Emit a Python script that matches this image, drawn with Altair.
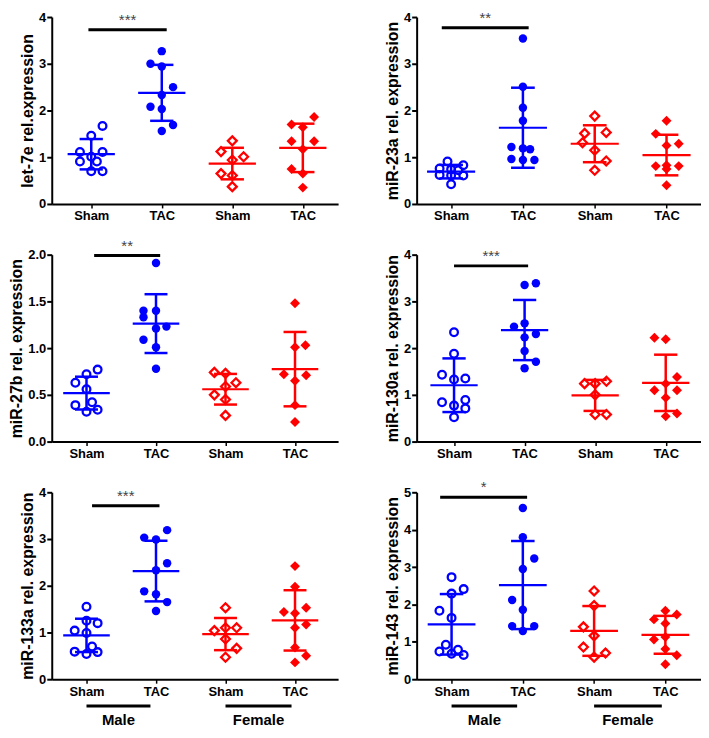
import altair as alt
import pandas as pd

FONT = "Liberation Sans"
BLUE = "#0000ff"
RED = "#ff0000"

# ---------------- categories ----------------
group_pos = [1, 2, 3, 4]
group_labels = ["Sham", "TAC", "Sham", "TAC"]
group_sex = ["Male", "Male", "Female", "Female"]
group_cond = ["Sham", "TAC", "Sham", "TAC"]

panel_titles = ["let-7e rel.expression", "miR-23a rel. expression",
                "miR-27b rel. expression", "miR-130a rel. expression",
                "miR-133a rel. expression", "miR-143 rel. expression"]
y_max = [4, 4, 2, 4, 4, 5]
y_ticks = [[0, 1, 2, 3, 4], [0, 1, 2, 3, 4], [0, 0.5, 1, 1.5, 2],
           [0, 1, 2, 3, 4], [0, 1, 2, 3, 4], [0, 1, 2, 3, 4, 5]]
y_format = ["d", "d", ".1f", "d", "d", "d"]
x_domains = [[0.44, 4.50], [0.52, 4.48], [0.50, 4.62],
             [0.47, 4.50], [0.50, 4.62], [0.51, 4.50]]

# ---------------- values (per group: Male Sham, Male TAC, Female Sham, Female TAC) ----------------
let7e_values = [
    [1.67, 1.46, 1.11, 1.11, 1.01, 0.91, 0.91, 0.70, 0.70],
    [3.27, 3.00, 2.94, 2.50, 2.33, 2.08, 2.03, 1.69, 1.56],
    [1.35, 1.12, 1.01, 0.94, 0.65, 0.61, 0.37],
    [1.86, 1.70, 1.64, 1.34, 1.34, 1.17, 0.75, 0.65, 0.35],
]
let7e_jitter = [
    [0.16, 0, -0.16, 0.16, 0, -0.16, 0.08, 0, 0.16],
    [0, -0.16, 0, 0.16, 0, -0.16, 0, 0.16, 0],
    [0, -0.16, 0.16, 0, -0.16, 0, 0],
    [0.16, -0.16, 0, -0.16, 0.16, 0, -0.16, 0, 0],
]
mir23a_values = [
    [0.91, 0.83, 0.76, 0.74, 0.72, 0.62, 0.61, 0.61, 0.42],
    [3.54, 2.51, 2.06, 1.78, 1.22, 1.19, 1.17, 0.96, 0.94, 0.94],
    [1.88, 1.51, 1.53, 1.31, 1.15, 0.92, 0.72],
    [1.78, 1.50, 1.29, 1.25, 0.83, 0.81, 0.81, 0.75, 0.40],
]
mir23a_jitter = [
    [-0.05, 0.17, -0.16, 0.0, 0.1, -0.16, 0.0, 0.17, 0],
    [0, 0, 0, 0, -0.16, 0, 0.1, -0.16, 0, 0.16],
    [0, -0.14, 0.16, -0.17, 0, 0.16, 0],
    [0, -0.15, 0.17, 0, 0, -0.15, 0.17, 0, 0],
]
mir27b_values = [
    [0.77, 0.72, 0.63, 0.56, 0.42, 0.39, 0.34, 0.32],
    [1.91, 1.40, 1.40, 1.33, 1.23, 1.21, 1.09, 1.01, 0.78],
    [0.74, 0.73, 0.63, 0.59, 0.50, 0.45, 0.28],
    [1.48, 1.03, 1.01, 0.72, 0.71, 0.65, 0.39, 0.21],
]
mir27b_jitter = [
    [0.16, 0, -0.16, 0, 0.08, -0.16, 0.16, 0],
    [0, -0.18, 0, -0.18, 0.15, 0, -0.18, 0, 0],
    [-0.16, 0, 0.15, 0, -0.16, 0, 0],
    [0, 0.15, 0, -0.16, 0.16, 0, 0, 0],
]
mir130a_values = [
    [2.34, 1.88, 1.43, 1.35, 1.33, 0.89, 0.84, 0.77, 0.71, 0.52],
    [3.39, 3.35, 2.53, 2.46, 2.30, 2.23, 1.94, 1.71, 1.57],
    [1.29, 1.24, 1.24, 1.00, 0.58, 0.58],
    [2.22, 2.19, 1.38, 1.24, 1.10, 1.10, 0.94, 0.60, 0.54],
]
mir130a_jitter = [
    [0, 0, -0.17, 0.16, 0, 0.16, -0.17, 0, 0.16, 0],
    [0.16, 0, 0, -0.15, 0.16, 0, 0, 0.16, 0],
    [0.16, -0.15, 0, 0, 0, 0.16],
    [-0.16, 0, 0.16, 0, -0.16, 0.16, 0, 0.16, 0],
]
mir133a_values = [
    [1.55, 1.25, 1.20, 1.04, 0.99, 0.70, 0.59, 0.58, 0.54],
    [3.19, 3.03, 2.99, 2.48, 2.33, 1.88, 1.82, 1.65, 1.46],
    [1.53, 1.10, 1.10, 1.04, 0.86, 0.66, 0.47],
    [2.42, 1.98, 1.53, 1.44, 1.41, 1.17, 1.10, 0.68, 0.50, 0.36],
]
mir133a_jitter = [
    [0, 0, 0.16, -0.17, 0, 0.08, -0.17, 0.16, 0],
    [0.16, -0.17, 0, 0.16, 0, -0.17, 0, 0.16, 0],
    [0, 0, 0.16, -0.16, 0, 0.16, 0],
    [0, 0, 0.16, -0.16, 0, 0.16, 0, 0, 0.16, 0],
]
mir143_values = [
    [2.73, 2.41, 2.29, 1.83, 1.64, 0.92, 0.79, 0.74, 0.68, 0.65],
    [4.58, 3.80, 3.23, 2.95, 2.12, 1.86, 1.42, 1.42, 1.29],
    [2.36, 1.97, 1.40, 1.16, 0.86, 0.70, 0.59],
    [1.83, 1.73, 1.60, 1.49, 1.13, 1.06, 0.81, 0.64, 0.40],
]
mir143_jitter = [
    [0, 0.17, 0, -0.17, 0, -0.08, 0.09, -0.17, 0, 0.17],
    [0, 0, 0.16, 0, -0.15, 0, -0.15, 0.16, 0],
    [0, 0, -0.15, 0, -0.15, 0.16, 0],
    [0, 0.16, -0.16, 0, 0, -0.16, 0, 0.16, 0],
]

# significance bars (Male Sham vs Male TAC)
sig_level = [3.73, 3.77, 1.99, 3.76, 3.71, 4.87]
sig_x1 = [0.96, 0.87, 1.11, 1.00, 1.08, 0.84]
sig_x2 = [2.07, 2.08, 2.06, 2.05, 2.05, 2.06]
sig_stars = ["***", "**", "**", "***", "***", "*"]

# sex group annotation below bottom panels
sex_labels = ["Male", "Female"]
sex_x1 = [1.00, 3.00]
sex_x2 = [1.92, 3.95]

all_values = [let7e_values, mir23a_values, mir27b_values,
              mir130a_values, mir133a_values, mir143_values]
all_jitter = [let7e_jitter, mir23a_jitter, mir27b_jitter,
              mir130a_jitter, mir133a_jitter, mir143_jitter]

W1, W2, H = 288, 286, 188

label_expr = "[''," + ",".join("'%s'" % s for s in group_labels) + "][datum.value]"

color_enc = alt.Color("sex:N", scale=alt.Scale(domain=["Male", "Female"], range=[BLUE, RED]),
                      legend=None)
shape_enc = alt.Shape("sex:N", scale=alt.Scale(domain=["Male", "Female"],
                                               range=["circle", "diamond"]), legend=None)


def make_panel(i):
    rows = []
    for gi in range(4):
        for v, off in zip(all_values[i][gi], all_jitter[i][gi]):
            rows.append({"g": group_pos[gi], "sex": group_sex[gi], "cond": group_cond[gi],
                         "value": v, "off": off})
    d = pd.DataFrame(rows)

    xs = alt.Scale(domain=x_domains[i], nice=False, zero=False)
    ys = alt.Scale(domain=[0, y_max[i]], nice=False, zero=True)
    xaxis = alt.Axis(values=group_pos, labelExpr=label_expr, title=None, grid=False,
                     domainColor="black", domainWidth=2, tickColor="black", tickWidth=1.5,
                     tickSize=4, labelFont=FONT, labelFontSize=13, labelFontWeight="bold",
                     labelColor="black", labelPadding=2, labelAngle=0)
    yaxis = alt.Axis(values=y_ticks[i], format=y_format[i], title=panel_titles[i], grid=False,
                     domainColor="black", domainWidth=2, tickColor="black", tickWidth=2,
                     tickSize=5, labelFont=FONT, labelFontSize=13, labelFontWeight="bold",
                     labelColor="black", labelPadding=1, titleFont=FONT, titleFontSize=16,
                     titleFontWeight="bold", titleColor="black", titlePadding=3)

    base = alt.Chart(d).transform_calculate(xp="datum.g + datum.off")
    stats = alt.Chart(d).transform_aggregate(
        mean="mean(value)", sd="stdev(value)", groupby=["g", "sex"]
    ).transform_calculate(
        lo="datum.mean - datum.sd", hi="datum.mean + datum.sd",
        m1="datum.g - 0.335", m2="datum.g + 0.335",
        c1="datum.g - 0.165", c2="datum.g + 0.165",
    )

    mean_rule = stats.mark_rule(strokeWidth=2.2).encode(
        x=alt.X("m1:Q", scale=xs, axis=xaxis), x2="m2:Q",
        y=alt.Y("mean:Q", scale=ys, axis=yaxis), color=color_enc)
    sd_rule = stats.mark_rule(strokeWidth=2.5).encode(
        x=alt.X("g:Q", scale=xs, axis=xaxis),
        y=alt.Y("lo:Q", scale=ys, axis=yaxis), y2="hi:Q", color=color_enc)
    cap_hi = stats.mark_rule(strokeWidth=2.5).encode(
        x=alt.X("c1:Q", scale=xs, axis=xaxis), x2="c2:Q",
        y=alt.Y("hi:Q", scale=ys, axis=yaxis), color=color_enc)
    cap_lo = stats.mark_rule(strokeWidth=2.5).encode(
        x=alt.X("c1:Q", scale=xs, axis=xaxis), x2="c2:Q",
        y=alt.Y("lo:Q", scale=ys, axis=yaxis), color=color_enc)

    open_pts = base.transform_filter("datum.cond == 'Sham'").mark_point(
        filled=False, strokeWidth=2.3, opacity=1).encode(
        x=alt.X("xp:Q", scale=xs, axis=xaxis),
        y=alt.Y("value:Q", scale=ys, axis=yaxis),
        color=color_enc, shape=shape_enc,
        size=alt.condition("datum.sex == 'Male'", alt.value(60), alt.value(80)))
    filled_pts = base.transform_filter("datum.cond == 'TAC'").mark_point(
        filled=True, opacity=1).encode(
        x=alt.X("xp:Q", scale=xs, axis=xaxis),
        y=alt.Y("value:Q", scale=ys, axis=yaxis),
        color=color_enc, shape=shape_enc,
        size=alt.condition("datum.sex == 'Male'", alt.value(72), alt.value(100)))

    sig_df = pd.DataFrame({"level": [sig_level[i]], "x1": [sig_x1[i]], "x2": [sig_x2[i]],
                           "stars": [sig_stars[i]]})
    sig_base = alt.Chart(sig_df).transform_calculate(xm="(datum.x1 + datum.x2) / 2")
    sig_rule = sig_base.mark_rule(color="black", strokeWidth=3).encode(
        x=alt.X("x1:Q", scale=xs, axis=xaxis), x2="x2:Q",
        y=alt.Y("level:Q", scale=ys, axis=yaxis))
    sig_text = sig_base.mark_text(font=FONT, fontSize=15, color="#444444", baseline="alphabetic",
                                  dy=-5).encode(
        x=alt.X("xm:Q", scale=xs, axis=xaxis),
        y=alt.Y("level:Q", scale=ys, axis=yaxis), text="stars:N")

    layers = [mean_rule, sd_rule, cap_hi, cap_lo, open_pts, filled_pts, sig_rule, sig_text]

    if i >= 4:
        sex_df = pd.DataFrame({"label": sex_labels, "x1": sex_x1, "x2": sex_x2})
        sex_base = alt.Chart(sex_df).transform_calculate(xm="(datum.x1 + datum.x2) / 2")
        sex_rule = sex_base.mark_rule(color="black", strokeWidth=3).encode(
            x=alt.X("x1:Q", scale=xs, axis=xaxis), x2="x2:Q", y=alt.value(H + 27))
        sex_text = sex_base.mark_text(font=FONT, fontSize=15, fontWeight="bold", color="black",
                                      baseline="middle").encode(
            x=alt.X("xm:Q", scale=xs, axis=xaxis), y=alt.value(H + 41), text="label:N")
        layers += [sex_rule, sex_text]

    w = W1 if i % 2 == 0 else W2
    return alt.layer(*layers).properties(width=w, height=H)


panels = [make_panel(i) for i in range(6)]

chart = alt.concat(*panels, columns=2, spacing=alt.RowColnumber(row=51, column=79),
                   bounds="flush").properties(padding=0).configure_view(stroke=None)

chart.save("out.html", embed_options={"renderer": "svg", "actions": False})
